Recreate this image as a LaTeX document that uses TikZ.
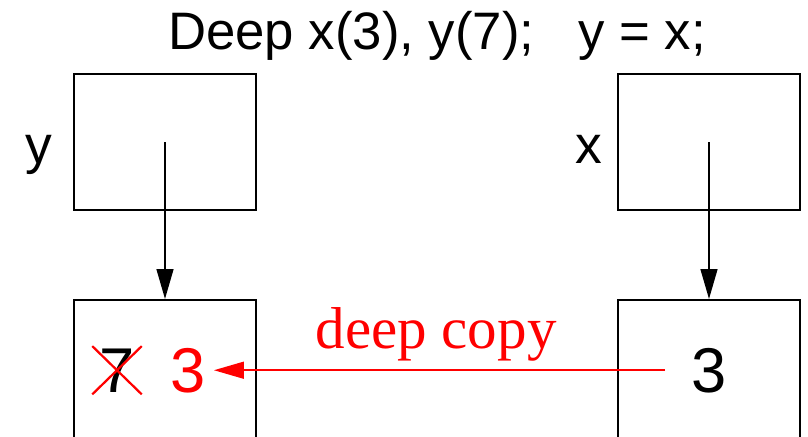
\documentclass[tikz,border=0pt]{standalone}
\usepackage{fontspec}
\setmainfont{Liberation Sans}
\newfontfamily\serifface{Liberation Serif}
\usetikzlibrary{arrows.meta, shapes.misc}

\begin{document}
\begin{tikzpicture}[
  cell/.style={rectangle, draw=black, line width=1.4pt, minimum width=4.55cm,
               minimum height=#1, inner sep=0pt},
  lbl/.style={font=\fontsize{38}{42}\selectfont, anchor=base, inner sep=0pt},
  val/.style={font=\fontsize{45}{50}\selectfont, anchor=base, inner sep=0pt},
  ptr/.style={-{Triangle[length=0.75cm, width=0.42cm]}, line width=1.5pt, #1},
]

% ── Cadre de l'image ─────────────────────────────────────────────────
\useasboundingbox (0,0) rectangle (20.2,-10.9);
\clip (0,0) rectangle (20.2,-10.9);

% ── Titre ────────────────────────────────────────────────────────────
\node[font=\fontsize{37.5}{42}\selectfont, anchor=base] (title) at (10.925,-1.225)
  {Deep x(3), y(7);\ \ \ y = x;};

% ── Pointeurs (en haut) ──────────────────────────────────────────────
\node[cell=3.4cm] (ybox) at (4.125,-3.55) {};
\node[cell=3.4cm] (xbox) at (17.725,-3.55) {};
\node[lbl] (ylbl) at (0.96,-4.08) {y};
\node[lbl] (xlbl) at (14.72,-4.08) {x};

% ── Objets pointés (en bas) ──────────────────────────────────────────
\node[cell=4.4cm] (yobj) at (4.125,-9.7) {};
\node[cell=4.4cm] (xobj) at (17.725,-9.7) {};

% ── Valeurs ──────────────────────────────────────────────────────────
\node[val, cross out, draw=red, line width=1.6pt, inner xsep=0.15cm, inner ysep=0.03cm]
  (oldval) at (2.925,-9.8) {7};
\node[val, red] (newval) at (4.7,-9.8) {3};
\node[val] (srcval) at (17.725,-9.8) {3};

% ── Flèches des pointeurs ────────────────────────────────────────────
\draw[ptr=black] (ybox.center) -- (yobj.north);
\draw[ptr=black] (xbox.center) -- (xobj.north);

% ── Copie profonde ───────────────────────────────────────────────────
\draw[ptr=red] ([xshift=-0.65cm]srcval.west) -- ([xshift=0.2cm]newval.east);
\node[font=\serifface\fontsize{42}{46}\selectfont, red, anchor=base] (cplbl)
  at (10.9,-8.7) {deep copy};

\end{tikzpicture}
\end{document}
